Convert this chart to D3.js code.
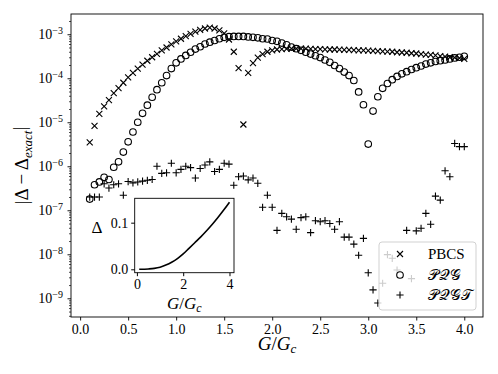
<!DOCTYPE html>
<html>
<head>
<meta charset="utf-8">
<script src="https://cdn.jsdelivr.net/npm/d3@7"></script>
<style>
body { margin: 0; background: #fff; }
text { font-family: "Liberation Serif", "DejaVu Serif", serif; fill: #000; }
</style>
</head>
<body>
<div id="chart"></div>
<script>
// G/Gc grid shared by the three error series
var G = [0.10,0.15,0.20,0.25,0.30,0.35,0.40,0.45,0.50,0.55,0.60,0.65,0.70,0.75,0.80,0.85,0.90,0.95,
  1.00,1.05,1.10,1.15,1.20,1.25,1.30,1.35,1.40,1.45,1.50,1.55,1.60,1.65,1.70,1.75,1.80,1.85,1.90,1.95,
  2.00,2.05,2.10,2.15,2.20,2.25,2.30,2.35,2.40,2.45,2.50,2.55,2.60,2.65,2.70,2.75,2.80,2.85,2.90,2.95,
  3.00,3.05,3.10,3.15,3.20,3.25,3.30,3.35,3.40,3.45,3.50,3.55,3.60,3.65,3.70,3.75,3.80,3.85,3.90,3.95,4.00];

var PBCS = [3.5e-6,8.3e-6,1.55e-5,2.3e-5,3.2e-5,4.6e-5,6.0e-5,7.9e-5,1.05e-4,1.32e-4,1.66e-4,2.04e-4,2.5e-4,3.0e-4,3.6e-4,4.3e-4,5.0e-4,5.9e-4,
  6.9e-4,7.9e-4,9.1e-4,1.02e-3,1.15e-3,1.26e-3,1.35e-3,1.41e-3,1.35e-3,1.23e-3,1.05e-3,7.6e-4,4.0e-4,1.7e-4,8.9e-6,1.32e-4,2.2e-4,2.95e-4,3.55e-4,4.0e-4,
  4.3e-4,4.5e-4,4.6e-4,4.65e-4,4.7e-4,4.7e-4,4.7e-4,4.7e-4,4.65e-4,4.6e-4,4.6e-4,4.55e-4,4.5e-4,4.5e-4,4.45e-4,4.4e-4,4.4e-4,4.35e-4,4.3e-4,4.3e-4,
  4.25e-4,4.2e-4,4.15e-4,4.1e-4,4.05e-4,4.0e-4,3.9e-4,3.85e-4,3.8e-4,3.7e-4,3.65e-4,3.55e-4,3.45e-4,3.4e-4,3.3e-4,3.2e-4,3.1e-4,3.0e-4,2.95e-4,2.85e-4,2.75e-4];

var PQG = [1.8e-7,3.8e-7,4.4e-7,5.6e-7,5.0e-7,9.5e-7,1.26e-6,2.1e-6,3.6e-6,6.0e-6,1.0e-5,1.6e-5,2.45e-5,3.7e-5,5.5e-5,7.9e-5,1.15e-4,1.66e-4,
  2.24e-4,2.75e-4,3.3e-4,3.9e-4,4.6e-4,5.2e-4,6.0e-4,6.6e-4,7.2e-4,7.9e-4,8.5e-4,8.8e-4,8.9e-4,8.9e-4,8.9e-4,8.7e-4,8.5e-4,8.3e-4,7.9e-4,7.8e-4,
  7.2e-4,6.9e-4,6.3e-4,5.75e-4,5.1e-4,4.7e-4,4.3e-4,3.9e-4,3.55e-4,3.25e-4,2.95e-4,2.6e-4,2.3e-4,1.95e-4,1.66e-4,1.38e-4,1.15e-4,8.9e-5,4.9e-5,2.5e-5,
  3.2e-6,1.8e-5,3.8e-5,5.9e-5,7.6e-5,9.3e-5,1.1e-4,1.26e-4,1.41e-4,1.58e-4,1.74e-4,1.9e-4,2.1e-4,2.24e-4,2.4e-4,2.5e-4,2.6e-4,2.75e-4,2.9e-4,3.0e-4,3.15e-4];

var PQGT = [2.0e-7,2.0e-7,2.0e-7,4.0e-7,3.2e-7,3.8e-7,4.0e-7,2.2e-7,4.5e-7,4.2e-7,4.4e-7,4.6e-7,4.8e-7,5.0e-7,1.0e-6,6.9e-7,7.1e-7,1.17e-6,
  7.1e-7,8.5e-7,1.0e-6,9.3e-7,5.4e-7,8.9e-7,1.07e-6,1.26e-6,7.6e-7,8.5e-7,1.17e-6,1.12e-6,3.7e-7,5.8e-7,6.0e-7,4.9e-7,5.4e-7,4.1e-7,1.17e-7,2.2e-7,
  1.17e-7,3.5e-8,8.5e-8,7.1e-8,6.3e-8,3.7e-8,6.8e-8,7.1e-8,3.1e-8,5.8e-8,5.5e-8,5.8e-8,5.0e-8,3.7e-8,5.5e-8,2.45e-8,2.45e-8,1.7e-8,9.5e-9,2.3e-8,
  3.8e-9,1.55e-9,7.8e-10,2.2e-9,9.8e-9,8.1e-9,4.4e-9,null,3.5e-8,2.8e-9,3.4e-8,3.9e-8,8.5e-8,4.8e-8,2.1e-7,1.7e-7,7.9e-7,5.8e-7,3.3e-6,2.8e-6,2.8e-6];

// inset: exact gap vs G/Gc
var insetG = [0.1,0.5,0.75,1.0,1.25,1.5,1.75,2.0,2.25,2.5,2.75,3.0,3.25,3.5,3.75,4.0];
var insetDelta = [0.0,0.0008,0.002,0.0045,0.009,0.015,0.023,0.033,0.045,0.057,0.069,0.082,0.096,0.111,0.127,0.144];

var xTicks = [0,0.5,1,1.5,2,2.5,3,3.5,4];
var yExps = [-9,-8,-7,-6,-5,-4,-3];
var insetXTicks = [0,2,4];
var insetYTicks = [0,0.1];
var legendNames = ["PBCS", "\u{1D4AB}\u{1D4AC}\u{1D4A2}", "\u{1D4AB}\u{1D4AC}\u{1D4A2}\u{1D4AF}"];

var width = 498, height = 374;
var pLeft = 71, pRight = 483, pTop = 14, pBottom = 317;

var svg = d3.select("#chart").append("svg")
    .attr("width", width)
    .attr("height", height);

var xScale = d3.scaleLinear().domain([-0.095, 4.195]).range([pLeft, pRight]);
var yScale = d3.scaleLog().domain([Math.pow(10, -9.425), Math.pow(10, -2.54)]).range([pBottom, pTop]);

// minor ticks 2..9 x 10^k
var minor = [];
for (var k = -10; k <= -2; k++) {
  for (var m = 2; m <= 9; m++) {
    var v = m * Math.pow(10, k);
    if (v > yScale.domain()[0] && v < yScale.domain()[1]) minor.push(v);
  }
}

var xAxis = d3.axisBottom(xScale).tickValues(xTicks).tickSize(3.5).tickPadding(4)
    .tickFormat(d3.format(".1f"));
var gx = svg.append("g").attr("transform", "translate(0," + pBottom + ")").call(xAxis);
gx.select(".domain").remove();
gx.selectAll("text").style("font-size", "14px").style("font-family", "Liberation Serif");
gx.selectAll("line").attr("stroke-width", 0.9);

var gyMinor = svg.append("g").attr("transform", "translate(" + pLeft + ",0)")
    .call(d3.axisLeft(yScale).tickValues(minor).tickSize(2).tickFormat(""));
gyMinor.select(".domain").remove();
gyMinor.selectAll("line").attr("stroke-width", 0.7);

var gy = svg.append("g").attr("transform", "translate(" + pLeft + ",0)")
    .call(d3.axisLeft(yScale).tickValues(yExps.map(function(e) { return Math.pow(10, e); }))
      .tickSize(3.5).tickPadding(4).tickFormat(""));
gy.select(".domain").remove();
gy.selectAll("line").attr("stroke-width", 0.9);
gy.selectAll(".tick").each(function(d) {
  var e = Math.round(Math.log10(d));
  var t = d3.select(this).append("text")
      .attr("x", -8).attr("dy", "0.32em")
      .attr("text-anchor", "end")
      .style("font-size", "14px").attr("fill", "#000");
  t.append("tspan").text("10");
  t.append("tspan").attr("dy", "-0.5em").style("font-size", "10px").text("\u2212" + (-e));
});

// frame
svg.append("rect")
    .attr("x", pLeft).attr("y", pTop)
    .attr("width", pRight - pLeft).attr("height", pBottom - pTop)
    .attr("fill", "none").attr("stroke", "#000").attr("stroke-width", 0.9);

var plot = svg.append("g");

function cross(g, x, y, s) {
  g.append("path").attr("d", "M" + (x - s) + "," + (y - s) + "L" + (x + s) + "," + (y + s) +
      "M" + (x - s) + "," + (y + s) + "L" + (x + s) + "," + (y - s))
    .attr("stroke", "#000").attr("stroke-width", 1.1).attr("fill", "none");
}
function plus(g, x, y, s) {
  g.append("path").attr("d", "M" + (x - s) + "," + y + "L" + (x + s) + "," + y +
      "M" + x + "," + (y - s) + "L" + x + "," + (y + s))
    .attr("stroke", "#000").attr("stroke-width", 1.1).attr("fill", "none");
}
function ring(g, x, y, r) {
  g.append("circle").attr("cx", x).attr("cy", y).attr("r", r)
    .attr("stroke", "#000").attr("stroke-width", 1.1).attr("fill", "none");
}

G.forEach(function(g, i) {
  if (PBCS[i] != null) cross(plot, xScale(g), yScale(PBCS[i]), 3);
});
G.forEach(function(g, i) {
  if (PQG[i] != null) ring(plot, xScale(g), yScale(PQG[i]), 3.3);
});
G.forEach(function(g, i) {
  if (PQGT[i] != null) plus(plot, xScale(g), yScale(PQGT[i]), 3.6);
});

// legend
var leg = svg.append("g");
leg.append("rect")
    .attr("x", 379).attr("y", 242).attr("width", 97).attr("height", 68)
    .attr("rx", 3).attr("fill", "#fff").attr("fill-opacity", 0.8)
    .attr("stroke", "#ccc").attr("stroke-width", 0.9);
var legY = [254, 275, 295];
cross(leg, 400, legY[0], 3);
ring(leg, 400, legY[1], 3.3);
plus(leg, 400, legY[2], 3.6);
legendNames.forEach(function(n, i) {
  leg.append("text").attr("x", 428).attr("y", legY[i]).attr("dy", "0.35em")
    .style("font-size", "15px")
    .text(n);
});

// axis labels
var xl = svg.append("text").attr("x", (pLeft + pRight) / 2).attr("y", 350)
    .attr("text-anchor", "middle").style("font-size", "19px");
xl.append("tspan").style("font-style", "italic").text("G");
xl.append("tspan").text("/");
xl.append("tspan").style("font-style", "italic").text("G");
xl.append("tspan").style("font-style", "italic").style("font-size", "13px").attr("dy", "0.25em").text("c");

var yl = svg.append("text").attr("transform", "translate(28," + ((pTop + pBottom) / 2) + ") rotate(-90)")
    .attr("text-anchor", "middle").style("font-size", "19px");
yl.append("tspan").text("|\u0394 \u2212 \u0394");
yl.append("tspan").style("font-style", "italic").style("font-size", "13px").attr("dy", "0.3em").text("exact");
yl.append("tspan").attr("dy", "-0.3em").text("|");

// inset
var iL = 134.7, iR = 234, iT = 198.3, iB = 272.7;
var ix = d3.scaleLinear().domain([-0.095, 4.195]).range([iL, iR]);
var iy = d3.scaleLinear().domain([-0.0073, 0.1523]).range([iB, iT]);

var inset = svg.append("g");
inset.append("rect").attr("x", iL).attr("y", iT).attr("width", iR - iL).attr("height", iB - iT)
    .attr("fill", "#fff");
inset.append("path")
    .datum(insetG.map(function(g, i) { return [g, insetDelta[i]]; }))
    .attr("fill", "none").attr("stroke", "#000").attr("stroke-width", 1.6)
    .attr("d", d3.line().curve(d3.curveMonotoneX)
      .x(function(d) { return ix(d[0]); })
      .y(function(d) { return iy(d[1]); }));
inset.append("rect").attr("x", iL).attr("y", iT).attr("width", iR - iL).attr("height", iB - iT)
    .attr("fill", "none").attr("stroke", "#000").attr("stroke-width", 0.9);

var igx = inset.append("g").attr("transform", "translate(0," + iB + ")")
    .call(d3.axisBottom(ix).tickValues(insetXTicks).tickSize(3.5).tickPadding(3).tickFormat(d3.format("d")));
igx.select(".domain").remove();
igx.selectAll("text").style("font-size", "14px").style("font-family", "Liberation Serif");
var igy = inset.append("g").attr("transform", "translate(" + iL + ",0)")
    .call(d3.axisLeft(iy).tickValues(insetYTicks).tickSize(3.5).tickPadding(3).tickFormat(d3.format(".1f")));
igy.select(".domain").remove();
igy.selectAll("text").style("font-size", "14px").style("font-family", "Liberation Serif");

inset.append("text").attr("x", 97).attr("y", 227).attr("dy", "0.35em")
    .attr("text-anchor", "middle").style("font-size", "17px").text("\u0394");
var ixl = inset.append("text").attr("x", (iL + iR) / 2).attr("y", 309)
    .attr("text-anchor", "middle").style("font-size", "17px");
ixl.append("tspan").style("font-style", "italic").text("G");
ixl.append("tspan").text("/");
ixl.append("tspan").style("font-style", "italic").text("G");
ixl.append("tspan").style("font-style", "italic").style("font-size", "12px").attr("dy", "0.25em").text("c");
</script>
</body>
</html>
